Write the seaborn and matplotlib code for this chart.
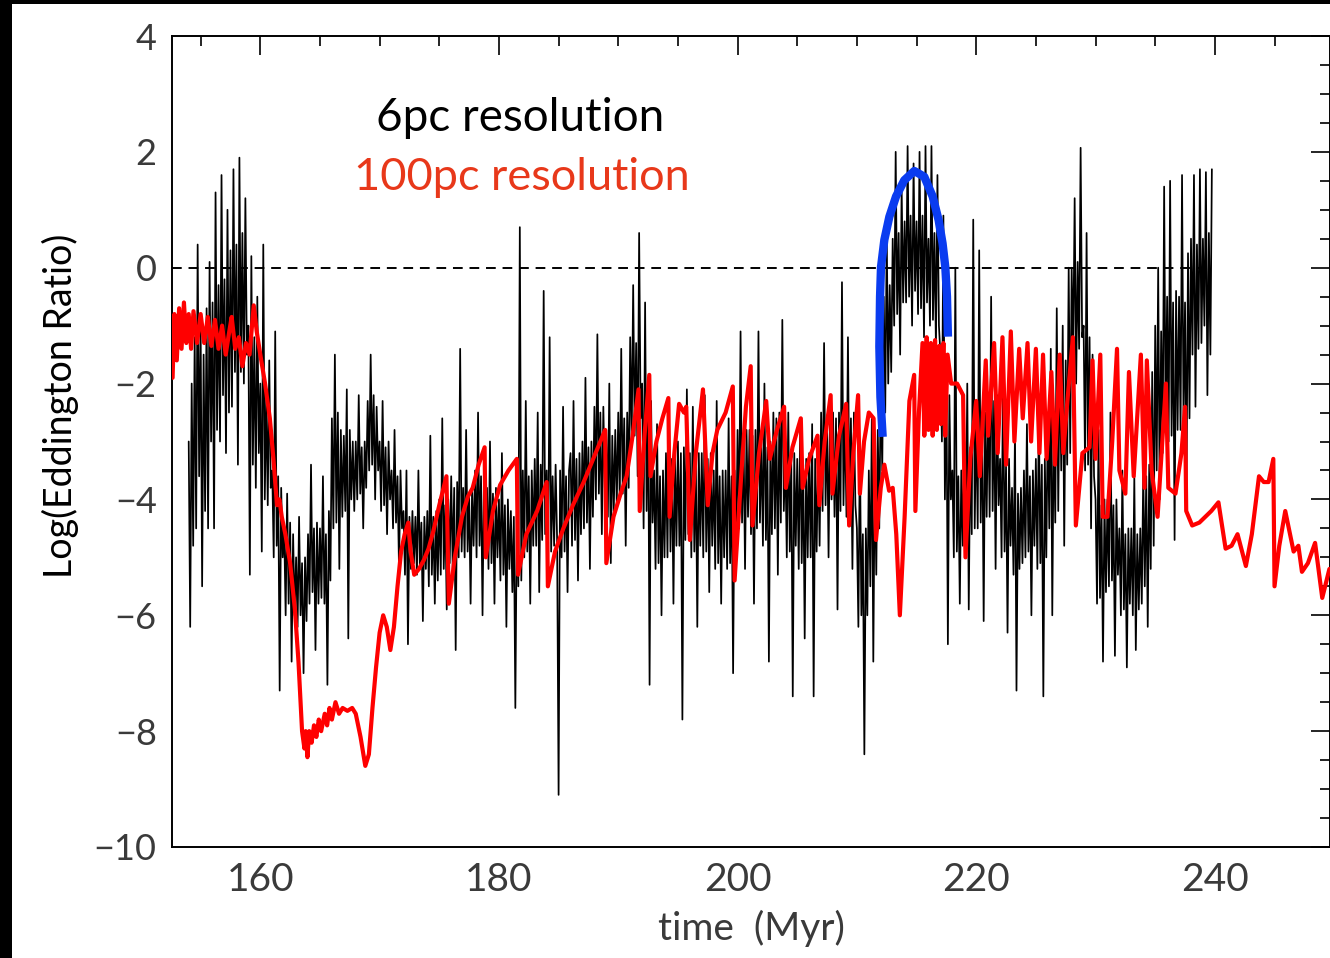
import numpy as np
import pandas as pd
import matplotlib
matplotlib.use("Agg")
import matplotlib.pyplot as plt
import seaborn as sns
from matplotlib.ticker import MultipleLocator, FixedLocator
from matplotlib.patches import Rectangle

# ---------------- data ----------------
# 6pc resolution run: log Eddington ratio sampled every 0.125 Myr from 154.0 Myr
# (one row = one Myr)
black_t0 = 154.0
black_dt = 0.125
black_v = [
    -3.0, -6.2, -2.0, -4.8, -1.2, -4.5, 0.4, -3.6,
    -1.0, -5.5, -1.5, -4.2, -0.7, -4.5, 0.1, -3.0,
    -0.6, -4.5, 1.3, -2.8, -0.3, -3.0, 1.6, -2.2,
    -0.2, -3.2, 1.0, -2.5, 0.3, -2.4, 1.7, -1.8,
    0.4, -3.4, 1.9, -1.8, 0.6, -2.0, 1.2, -1.5,
    -1.0, -5.3, 0.2, -3.4, -1.2, -3.8, -0.5, -3.2,
    -2.0, -4.9, 0.4, -4.0, -2.2, -4.1, -1.6, -3.8,
    -3.5, -5.0, -1.1, -4.8, -3.6, -7.3, -3.8, -5.0,
    -4.5, -6.0, -3.9, -5.8, -4.4, -6.8, -4.6, -6.0,
    -5.0, -6.2, -4.3, -6.0, -5.1, -7.0, -5.0, -6.1,
    -4.6, -5.8, -3.4, -5.6, -4.5, -6.6, -4.4, -5.8,
    -4.5, -5.7, -3.6, -5.8, -4.6, -7.2, -4.2, -5.4,
    -2.6, -4.5, -1.5, -4.4, -2.5, -5.2, -2.8, -4.3,
    -2.9, -4.2, -2.1, -6.4, -2.8, -4.0, -3.0, -4.2,
    -3.0, -4.0, -2.2, -3.9, -3.1, -4.5, -3.0, -3.8,
    -2.3, -3.5, -1.5, -3.4, -2.2, -4.0, -2.4, -3.5,
    -3.0, -4.2, -2.3, -4.1, -3.1, -4.6, -3.0, -4.0,
    -3.5, -4.5, -2.8, -4.4, -3.6, -5.2, -3.5, -4.5,
    -4.2, -5.3, -3.5, -6.5, -4.3, -5.2, -4.2, -5.1,
    -4.3, -5.3, -3.5, -5.2, -4.4, -6.1, -4.3, -5.2,
    -4.2, -5.5, -2.9, -5.3, -4.3, -5.8, -4.2, -5.4,
    -4.0, -5.3, -2.6, -5.2, -4.1, -5.9, -4.0, -5.1,
    -3.6, -5.2, -3.8, -6.6, -3.7, -5.0, -1.4, -4.9,
    -3.8, -5.0, -2.8, -4.9, -3.9, -5.8, -3.8, -4.8,
    -3.5, -5.0, -2.5, -4.8, -3.6, -6.0, -3.5, -4.9,
    -3.8, -5.2, -3.0, -5.1, -3.9, -5.8, -3.8, -5.0,
    -4.0, -5.4, -3.2, -5.3, -4.1, -6.2, -4.0, -5.2,
    -4.2, -5.6, -4.3, -7.6, -4.2, -5.5, 0.7, -5.4,
    -3.5, -5.0, -2.3, -4.9, -3.6, -5.8, -3.5, -4.8,
    -3.3, -4.8, -2.5, -5.6, -3.4, -4.7, -0.4, -4.6,
    -3.5, -5.0, -1.2, -4.9, -3.6, -4.8, -3.4, -4.7,
    -9.1, -3.5, -5.0, -2.4, -4.9, -3.6, -5.6, -3.5,
    -3.2, -4.8, -2.3, -4.7, -3.3, -5.4, -3.2, -4.6,
    -3.0, -4.5, -1.9, -4.4, -3.1, -5.2, -3.0, -4.3,
    -2.4, -4.0, -1.15, -3.9, -2.5, -4.6, -2.4, -3.8,
    -2.8, -4.3, -2.0, -5.1, -2.9, -4.2, -2.8, -4.1,
    -2.5, -4.0, -1.4, -3.9, -2.6, -4.8, -2.5, -3.8,
    -1.2, -3.0, -0.3, -2.9, -1.3, -3.6, 0.6, -2.6,
    -2.0, -4.5, -0.6, -4.2, -2.1, -7.2, -2.3, -4.4,
    -3.5, -5.2, -2.7, -5.1, -3.6, -6.0, -3.5, -5.0,
    -3.2, -5.0, -2.4, -4.9, -3.3, -5.8, -3.2, -4.8,
    -3.0, -4.8, -3.2, -7.8, -3.1, -4.7, -2.1, -4.6,
    -3.2, -5.0, -2.4, -4.9, -3.3, -6.2, -3.2, -4.8,
    -3.2, -5.0, -2.2, -4.9, -3.3, -5.6, -3.2, -4.8,
    -3.5, -5.2, -2.3, -5.1, -3.6, -5.8, -3.5, -5.0,
    -3.5, -5.2, -2.6, -5.1, -3.6, -7.0, -3.5, -5.0,
    -2.8, -4.5, -1.1, -4.4, -2.9, -5.2, -2.8, -4.3,
    -2.8, -4.6, -2.9, -5.8, -2.8, -4.5, -1.1, -4.4,
    -3.0, -4.8, -2.0, -4.7, -3.1, -6.8, -3.0, -4.6,
    -2.5, -4.5, -2.6, -5.3, -2.5, -4.4, -0.9, -4.2,
    -3.2, -5.0, -2.5, -4.9, -3.3, -7.4, -3.2, -4.8,
    -3.3, -5.2, -2.6, -5.1, -3.4, -6.4, -3.3, -5.0,
    -3.2, -5.0, -2.7, -7.4, -3.3, -4.9, -3.2, -4.8,
    -2.5, -4.2, -1.3, -4.1, -2.6, -5.0, -2.5, -4.0,
    -2.5, -4.3, -2.6, -5.9, -2.5, -4.2, -0.25, -4.1,
    -2.5, -4.3, -1.2, -4.2, -2.6, -5.2, -2.5, -4.1,
    -4.5, -6.2, -3.0, -6.0, -4.6, -8.4, -4.5, -6.0,
    -3.5, -5.5, -2.6, -6.8, -3.4, -5.3, -2.8, -4.5,
    -2.0, -3.5, -0.5, -2.5, 0.6, -2.0, -0.3, -1.8,
    0.5, -1.0, 2.0, -0.8, 0.6, -1.5, 1.4, -0.6,
    0.8, -0.6, 2.1, -0.5, 0.9, -1.0, 1.8, -0.4,
    0.8, -0.8, 2.0, -0.7, 0.9, -1.2, 2.1, -0.6,
    0.5, -1.0, 2.1, -0.9, 0.6, -1.4, 1.6, -1.0,
    -1.5, -3.0, 0.9, -4.0, -1.8, -6.5, -2.2, -4.0,
    -3.5, -5.0, 0.0, -4.9, -3.6, -5.8, -3.5, -4.8,
    -3.0, -4.8, -2.0, -5.9, -3.1, -4.6, 0.83, -4.5,
    -2.5, -4.5, 0.3, -4.4, -2.6, -6.1, -2.5, -4.3,
    -2.2, -4.3, -0.5, -4.2, -2.3, -5.2, -2.2, -4.1,
    -3.3, -5.0, -1.8, -4.9, -3.4, -6.3, -3.3, -4.8,
    -3.8, -5.3, -2.8, -7.3, -3.9, -5.2, -3.8, -5.1,
    -3.5, -5.0, -2.7, -4.9, -3.6, -6.0, -3.5, -4.8,
    -3.3, -5.2, -2.5, -5.1, -3.4, -7.4, -3.3, -5.0,
    -2.5, -4.5, -1.4, -6.0, -2.6, -4.4, -0.7, -4.2,
    -1.5, -3.5, -1.0, -4.8, -1.6, -3.4, 0.0, -3.2,
    0.0, -1.5, 1.2, -2.0, 0.1, -1.4, 2.07, -1.2,
    -1.0, -3.5, 0.6, -3.4, -1.2, -4.5, -1.5, -3.6,
    -4.0, -5.8, -2.8, -5.7, -4.1, -6.8, -4.0, -5.6,
    -4.0, -5.5, -2.5, -5.4, -4.1, -6.7, -4.0, -5.3,
    -4.5, -6.0, -3.5, -5.9, -4.6, -6.9, -4.5, -5.8,
    -4.5, -6.0, -3.6, -6.6, -4.6, -5.9, -4.5, -5.8,
    -3.5, -5.5, -3.6, -6.2, -3.4, -5.2, -1.8, -4.8,
    -1.0, -3.5, 0.0, -4.0, -1.1, -3.2, 1.4, -2.8,
    -0.5, -3.0, 1.5, -2.9, -0.6, -4.7, -0.4, -2.8,
    -0.5, -2.8, 1.6, -2.7, -0.6, -3.8, 0.25, -2.6,
    0.5, -1.5, 1.6, -2.4, 0.4, -1.4, 1.7, -1.3,
    0.5, -1.0, 1.65, -2.2, 0.6, -1.5, 1.7,
]

# 100pc resolution run
red_t = [152.65, 152.8, 153.0, 153.2, 153.4, 153.6, 153.8, 154.0, 154.2, 154.4,
         154.7, 155.0, 155.3, 155.6, 155.9, 156.2, 156.5, 156.8, 157.1, 157.4,
         157.6, 157.9, 158.2, 158.5, 158.8, 159.1, 159.45, 159.7, 160.0, 160.4,
         160.8, 161.1, 161.4, 161.6, 161.8, 162.1, 162.5, 162.9, 163.2, 163.5,
         163.7, 163.8, 163.95, 164.1, 164.3, 164.5, 164.7, 164.9, 165.1, 165.4,
         165.6, 165.8, 166.0, 166.3, 166.6, 166.9, 167.3, 167.7, 168.0, 168.4,
         168.8, 169.1, 169.4, 169.7, 170.0, 170.3, 170.6, 170.9, 171.2, 171.5,
         171.8, 172.1, 172.4, 172.6, 172.9, 173.3, 173.7, 174.1, 174.5, 175.0,
         175.6, 175.8, 176.3, 176.9, 177.4, 177.8, 178.3, 178.8, 178.9, 179.5,
         180.1, 180.8, 181.5, 181.6, 182.3, 183.2, 184.0, 184.1, 184.7, 185.4,
         186.2, 187.1, 188.0, 188.9, 189.0, 189.6, 190.2, 190.7, 191.2, 191.7,
         191.8, 192.2, 192.6, 192.7, 193.2, 193.7, 194.2, 194.3, 194.7, 195.1,
         195.5, 195.7, 196.0, 196.5, 197.1, 197.5, 197.9, 198.3, 199.0, 199.6,
         199.75, 200.3, 200.7, 201.1, 201.25, 201.8, 202.4, 202.7, 203.3, 203.9,
         204.05, 204.6, 205.3, 205.45, 206.0, 206.7, 206.85, 207.3, 207.8, 207.95,
         208.5, 209.1, 209.35, 209.7, 210.1, 210.25, 210.6, 211.0, 211.4, 211.6,
         212.0, 212.3, 212.7, 213.0, 213.3, 213.6, 214.0, 214.4, 214.8, 214.9,
         215.2, 215.5, 215.65, 215.85, 216.0, 216.2, 216.35, 216.55, 216.7, 216.9,
         217.05, 217.25, 217.4, 217.6, 217.9, 218.4, 218.9, 219.1, 219.5, 220.0,
         220.3, 220.8, 221.0, 221.5, 221.8, 222.2, 222.5, 222.9, 223.2, 223.6,
         223.9, 224.3, 224.6, 225.0, 225.3, 225.6, 225.9, 226.3, 226.6, 227.0,
         227.3, 227.6, 228.1, 228.35, 228.9, 229.5, 229.75, 230.0, 230.4, 230.6,
         231.0, 231.4, 231.8, 232.0, 232.5, 232.8, 233.2, 233.8, 234.1, 234.3,
         234.7, 235.2, 235.9, 236.1, 236.7, 237.2, 237.5, 237.6, 238.1, 238.7,
         239.2, 239.7, 240.3, 240.9, 241.4, 241.9, 242.6, 243.1, 243.7, 244.1,
         244.5, 244.9, 245.0, 245.4, 245.9, 246.3, 246.6, 247.0, 247.3, 247.8,
         248.4, 249.0, 249.6]
red_v = [-1.9, -0.8, -1.6, -0.7, -1.4, -0.6, -1.3, -0.8, -1.4, -0.75,
         -1.3, -0.8, -1.3, -0.85, -1.35, -0.9, -1.4, -1.0, -1.5, -1.1,
         -0.85, -1.4, -1.2, -1.7, -1.3, -1.5, -0.65, -1.1, -1.5, -2.0,
         -2.6, -3.3, -4.1, -4.0, -4.3, -4.6, -5.1, -5.9, -6.8, -8.0,
         -8.3, -8.0, -8.45, -8.0, -8.2, -7.9, -8.1, -7.8, -8.0, -7.7,
         -7.9, -7.6, -7.8, -7.5, -7.7, -7.6, -7.65, -7.6, -7.7, -8.1,
         -8.6, -8.4, -7.6, -6.9, -6.3, -6.0, -6.2, -6.6, -6.2, -5.5,
         -4.9, -4.6, -4.4, -4.9, -5.3, -5.2, -5.05, -4.85, -4.55, -4.1,
         -3.6, -5.8, -5.0, -4.3, -3.95, -3.8, -3.4, -3.1, -5.0, -4.2,
         -3.75, -3.5, -3.3, -5.3, -4.6, -4.2, -3.7, -5.5, -4.9, -4.5,
         -4.1, -3.7, -3.25, -2.8, -5.1, -4.3, -3.9, -3.6, -2.9, -2.1,
         -4.2, -2.9, -1.85, -3.6, -3.0, -2.6, -2.25, -4.3, -3.2, -2.35,
         -2.5, -2.4, -4.7, -3.2, -2.1, -4.1, -3.2, -2.8, -2.5, -2.05,
         -5.4, -3.6, -2.4, -1.7, -4.45, -3.2, -2.3, -3.3, -2.8, -2.4,
         -3.8, -3.1, -2.6, -3.8, -3.3, -2.9, -4.1, -3.0, -2.2, -3.9,
         -2.9, -2.35, -4.45, -3.2, -2.2, -3.9, -3.0, -2.5, -2.6, -4.7,
         -3.8, -3.4, -3.85, -3.8, -4.6, -6.0, -4.3, -2.3, -1.85, -4.2,
         -2.5, -1.3, -2.9, -1.2, -2.8, -1.3, -2.9, -1.25, -2.8, -1.35,
         -2.7, -1.3, -2.9, -1.5, -2.0, -2.0, -2.2, -5.0, -3.3, -2.3,
         -3.6, -1.6, -2.9, -1.3, -3.2, -1.2, -3.4, -1.1, -3.0, -1.4,
         -2.6, -1.3, -3.0, -1.4, -3.2, -1.5, -3.3, -1.8, -3.4, -1.5,
         -3.2, -2.4, -1.2, -4.45, -3.2, -3.1, -1.6, -3.3, -1.5, -4.3,
         -4.3, -3.0, -1.4, -3.5, -3.9, -1.8, -3.6, -1.5, -3.8, -1.6,
         -3.5, -4.3, -2.0, -3.8, -3.9, -3.2, -2.4, -4.2, -4.45, -4.4,
         -4.3, -4.2, -4.05, -4.85, -4.8, -4.6, -5.15, -4.6, -3.6, -3.7,
         -3.7, -3.3, -5.5, -4.8, -4.2, -4.6, -4.9, -4.8, -5.25, -5.1,
         -4.75, -5.7, -5.2]

# Highlighted burst (blue arc)
blue_t = [212.16, 211.97, 211.88, 211.94, 212.02, 212.30, 212.72, 213.28, 213.97,
          214.81, 215.65, 216.35, 216.85, 217.18, 217.41, 217.55, 217.63]
blue_v = [-2.92, -2.23, -1.36, -0.50, 0.01, 0.48, 0.88, 1.23, 1.51,
          1.67, 1.57, 1.23, 0.82, 0.42, 0.01, -0.50, -1.19]

x_major = [160, 180, 200, 220, 240]
y_major = [4, 2, 0, -2, -4, -6, -8, -10]
x_range = (152.6, 249.65)
y_range = (-10, 4)
label_black = "6pc resolution"
label_red = "100pc resolution"

black_t = black_t0 + black_dt * np.arange(len(black_v))
df_black = pd.DataFrame({"time": black_t, "logER": black_v})
df_red = pd.DataFrame({"time": red_t, "logER": red_v})
df_blue = pd.DataFrame({"time": blue_t, "logER": blue_v})

# ---------------- figure ----------------
sns.set_theme(style="white")
plt.rcParams["font.family"] = ["Lato", "DejaVu Sans"]
plt.rcParams["axes.unicode_minus"] = True

W, H = 1330, 958
fig = plt.figure(figsize=(W / 100, H / 100), dpi=100)
fig.patch.set_facecolor("black")
fig.patches.append(Rectangle((12 / W, 0), 1 - 12 / W, 1 - 4 / H,
                             transform=fig.transFigure, facecolor="white",
                             edgecolor="none", zorder=-5))
ax = fig.add_axes([172 / W, 1 - 847 / H, (W - 172) / W, (847 - 36) / H])
ax.set_facecolor("white")

sns.lineplot(data=df_black, x="time", y="logER", ax=ax, color="black",
             lw=1.25, estimator=None, sort=False, zorder=2)
sns.lineplot(data=df_red, x="time", y="logER", ax=ax, color="#ff0000",
             lw=3.0, estimator=None, sort=False, zorder=3)
sns.lineplot(data=df_blue, x="time", y="logER", ax=ax, color="#0a3cf0",
             lw=6.0, estimator=None, sort=False, zorder=4,
             solid_capstyle="butt")
ax.hlines(0, x_range[0], black_t[-1], colors="black", lw=1.4,
          linestyles=(0, (5, 3.5)), zorder=1)

ax.set_xlim(*x_range)
ax.set_ylim(*y_range)
ax.xaxis.set_major_locator(FixedLocator(x_major))
ax.xaxis.set_minor_locator(MultipleLocator(5))
ax.yaxis.set_major_locator(FixedLocator(y_major))
ax.yaxis.set_minor_locator(MultipleLocator(0.5))
ax.tick_params(which="both", direction="in", top=True, right=True,
               color="black", width=1.2)
ax.tick_params(which="major", length=14)
ax.tick_params(which="minor", length=7)
ax.tick_params(axis="x", labelsize=28, labelcolor="#3a3a3a", pad=11)
ax.tick_params(axis="y", labelsize=26, labelcolor="#3a3a3a", pad=11)
for lab in ax.get_xticklabels() + ax.get_yticklabels():
    lab.set_fontweight("normal")
for s in ax.spines.values():
    s.set_color("black")
    s.set_linewidth(1.4)

ax.set_xlabel("time  (Myr)", fontsize=28, color="#3a3a3a", fontweight="normal",
              labelpad=8)
ax.set_ylabel("")
fig.text(60 / W, 1 - 406 / H, "Log(Eddington Ratio)", rotation=90,
         ha="center", va="center", fontsize=27, color="black")

fig.text(520 / W, 1 - 131 / H, label_black, ha="center", va="baseline",
         fontsize=33, color="black")
fig.text(522 / W, 1 - 190 / H, label_red, ha="center", va="baseline",
         fontsize=32.5, color="#e8381a")

fig.savefig("out.png", dpi=100)
